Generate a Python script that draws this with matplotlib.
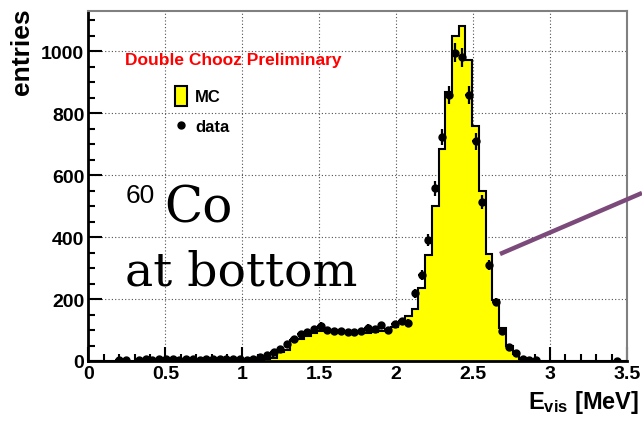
import numpy as np
import matplotlib
matplotlib.use("Agg")
import matplotlib.pyplot as plt
from matplotlib.lines import Line2D
from matplotlib.patches import Rectangle

plt.rcParams['font.family'] = ['Liberation Sans', 'DejaVu Sans']
plt.rcParams['mathtext.fontset'] = 'custom'
plt.rcParams['mathtext.rm'] = 'Liberation Sans:bold'
plt.rcParams['mathtext.bf'] = 'Liberation Sans:bold'

# 80 bins between 0 and 3.5 MeV
nbins = 80
emin, emax = 0.0, 3.5

# MC prediction, bins 25..65 (all others empty)
mc_first_bin = 25
mc_counts = [2, 6, 9, 30, 36, 68, 72, 82, 92, 97,
             99, 98, 96, 95, 93, 90, 92, 95, 98, 103,
             110, 122, 146, 168, 235, 343, 501, 684, 867, 1049,
             1081, 971, 759, 549, 347, 198, 105, 49, 23, 8,
             2]

# measured data, (bin index, entries)
data_bins = [4, 5, 7, 8, 9, 10, 11, 12, 13, 14, 15, 16, 17, 18, 19, 20, 21, 22, 23, 24,
             25, 26, 27, 28, 29, 30, 31, 32, 33, 34, 35, 36, 37, 38, 39, 40, 41, 42, 43, 44,
             45, 46, 47, 48, 49, 50, 51, 52, 53, 54, 55, 56, 57, 58, 59, 60, 61, 62, 63, 64,
             65, 66, 78]
data_counts = [4, 4, 4, 5, 4, 6, 5, 6, 4, 6, 5, 4, 5, 8, 7, 8, 6, 5, 3, 8,
               12, 18, 28, 40, 55, 72, 86, 94, 102, 114, 100, 98, 97, 95, 94, 96, 108, 102, 116, 101,
               119, 128, 123, 218, 277, 391, 557, 723, 859, 996, 980, 858, 709, 512, 310, 191, 98, 46, 26, 6,
               3, 3, 1]

edges = np.linspace(emin, emax, nbins + 1)
width = edges[1] - edges[0]
mc = np.zeros(nbins)
mc[mc_first_bin:mc_first_bin + len(mc_counts)] = mc_counts
centers = edges[:-1] + width / 2
dx = centers[data_bins]
dy = np.array(data_counts, dtype=float)

fig = plt.figure(figsize=(6.42, 4.27), dpi=100)
ax = fig.add_axes([88.5 / 642, 1 - 362 / 427, (627 - 88.5) / 642, (362 - 12) / 427])

ax.stairs(mc, edges, fill=True, color='#ffff00', zorder=2)
ax.stairs(mc, edges, color='black', linewidth=1.5, zorder=3)
ax.errorbar(dx, dy, yerr=np.sqrt(dy), xerr=width / 2, fmt='o', color='black',
            markersize=5, elinewidth=1.6, capsize=0, zorder=4)

ax.set_xlim(emin, emax)
ax.set_ylim(0, 1130)
ax.set_xticks(np.arange(0, 3.51, 0.5))
ax.set_xticklabels(['0', '0.5', '1', '1.5', '2', '2.5', '3', '3.5'])
ax.set_xticks(np.arange(0, 3.51, 0.1), minor=True)
ax.set_yticks(np.arange(0, 1001, 200))
ax.set_yticks(np.arange(0, 1130, 50), minor=True)
ax.tick_params(which='both', direction='in', top=False, right=False, width=1.5,
               labelsize=14)
ax.tick_params(which='major', length=10, pad=3)
ax.tick_params(which='minor', length=5)
for lab in ax.get_xticklabels() + ax.get_yticklabels():
    lab.set_fontweight('bold')
ax.grid(True, which='major', linestyle=(0, (1, 2)), color='#505050', linewidth=0.8, zorder=0)
ax.set_axisbelow(True)
for side in ['left', 'bottom']:
    ax.spines[side].set_linewidth(2)
for side in ['top', 'right']:
    ax.spines[side].set_color('#808080')
    ax.spines[side].set_linewidth(1.5)

fig.text(22 / 642, 1 - 8 / 427, 'entries', rotation=90, ha='center', va='top',
         fontsize=19, fontweight='bold')
fig.text(639 / 642, 1 - 409 / 427, r'$\mathbf{E_{vis}}$ [MeV]', ha='right', va='baseline',
         fontsize=17, fontweight='bold')

fig.text(125 / 642, 1 - 61 / 427, 'Double Chooz Preliminary', color='#ff0000',
         fontsize=12.5, fontweight='bold', va='center')

# legend
fig.patches.append(Rectangle((175 / 642, 1 - 107 / 427), 12 / 642, 20 / 427,
                             transform=fig.transFigure, facecolor='#ffff00',
                             edgecolor='black', linewidth=1.5))
fig.text(195 / 642, 1 - 97 / 427, 'MC', fontsize=12, fontweight='bold', va='center')
fig.add_artist(Line2D([181 / 642], [1 - 126 / 427], marker='o', color='black',
                      markersize=5, transform=fig.transFigure))
fig.text(195 / 642, 1 - 127 / 427, 'data', fontsize=12, fontweight='bold', va='center')

# source label
fig.text(126 / 642, 1 - 203 / 427, '60', fontsize=19, va='baseline',
         family='Liberation Sans')
fig.text(164 / 642, 1 - 223 / 427, 'Co', fontsize=36, va='baseline', family='DejaVu Serif')
fig.text(125 / 642, 1 - 286 / 427, 'at bottom', fontsize=34, va='baseline',
         family='DejaVu Serif')

fig.add_artist(Line2D([500 / 642, 642 / 642], [1 - 255 / 427, 1 - 194 / 427],
                      color='#7b4a7b', linewidth=3.2, transform=fig.transFigure,
                      solid_capstyle='butt'))

fig.savefig('out.png', dpi=100)
